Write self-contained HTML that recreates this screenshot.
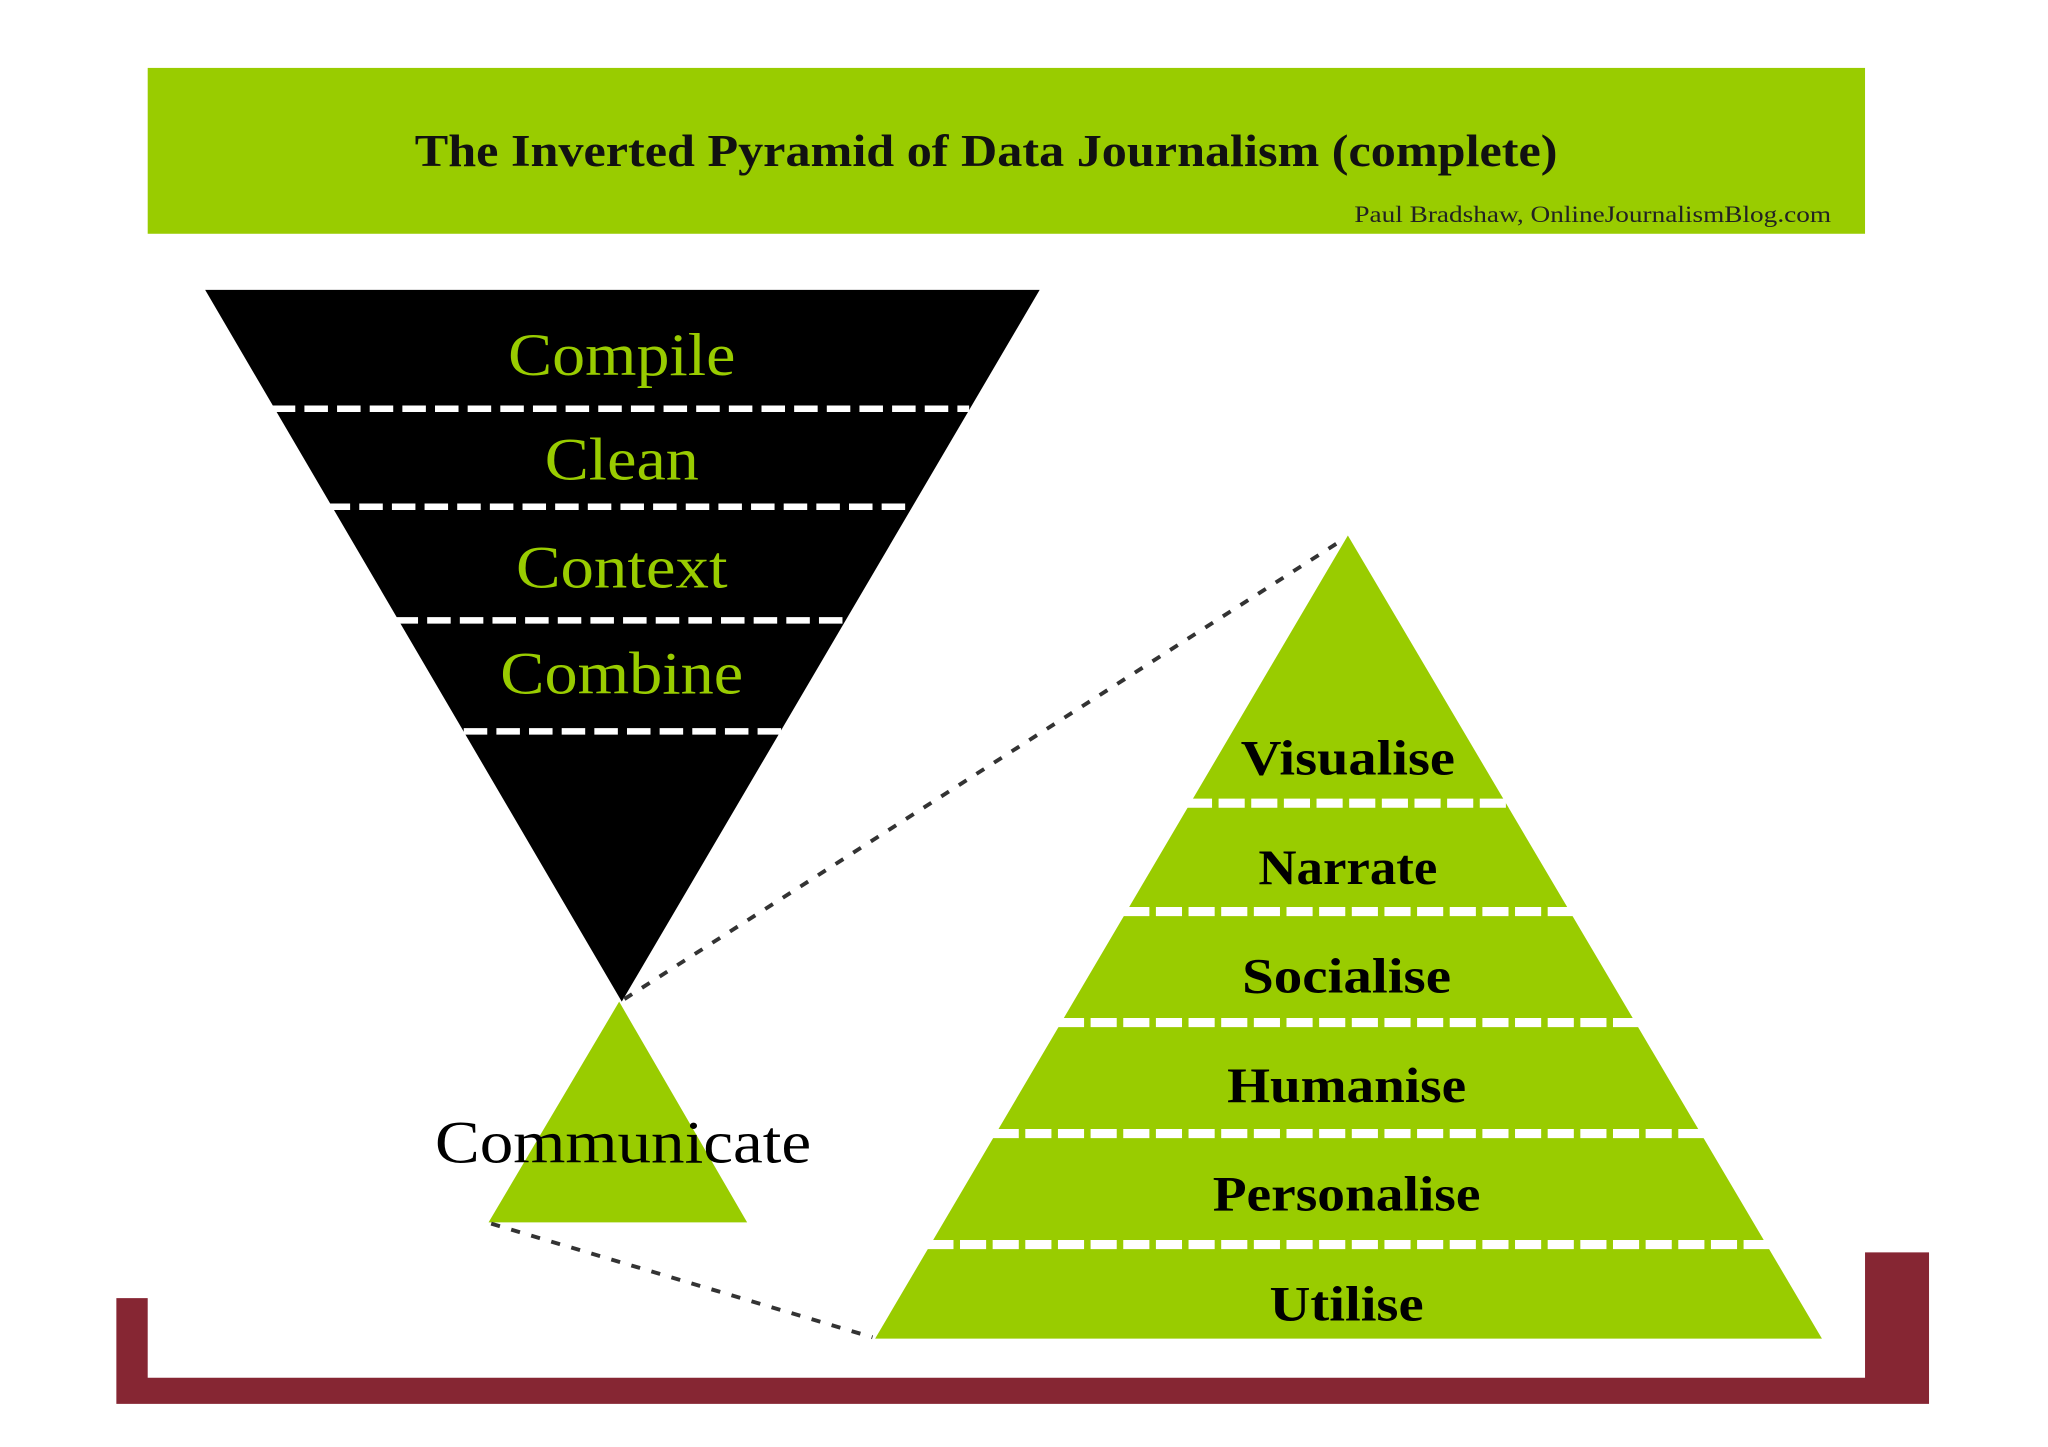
<!DOCTYPE html>
<html><head><meta charset="utf-8"><style>
html,body{margin:0;padding:0;background:#fff;}
svg{display:block;}
text{font-family:"Liberation Serif","DejaVu Serif",serif;}
</style></head><body>
<svg width="2048" height="1447" viewBox="0 0 1568 1108" xmlns="http://www.w3.org/2000/svg">
<rect width="1568" height="1108" fill="#fff"/>
<rect x="113" y="52" width="1315" height="127" fill="#99cc00"/>
<text x="755" y="127" font-size="35" font-weight="bold" text-anchor="middle" fill="#111" textLength="875" lengthAdjust="spacingAndGlyphs">The Inverted Pyramid of Data Journalism (complete)</text>
<text x="1402" y="170" font-size="18" text-anchor="end" fill="#222" textLength="365" lengthAdjust="spacingAndGlyphs">Paul Bradshaw, OnlineJournalismBlog.com</text>
<path d="M89 994 H113 V1055 H1428 V959 H1477 V1075 H89 Z" fill="#862633"/>
<polygon points="157,222 796,222 476,767" fill="#000"/>
<g stroke="#fff" stroke-width="5" stroke-dasharray="18 7">
<line x1="208" y1="313" x2="742" y2="313"/>
<line x1="250" y1="388" x2="700" y2="388"/>
<line x1="302" y1="475" x2="650" y2="475"/>
<line x1="355" y1="560" x2="598" y2="560"/>
</g>
<g font-size="46" fill="#99cc00" text-anchor="middle" lengthAdjust="spacingAndGlyphs">
<text x="476" y="287" textLength="174" lengthAdjust="spacingAndGlyphs">Compile</text>
<text x="476" y="367" textLength="118" lengthAdjust="spacingAndGlyphs">Clean</text>
<text x="476" y="450" textLength="162" lengthAdjust="spacingAndGlyphs">Context</text>
<text x="476" y="531" textLength="186" lengthAdjust="spacingAndGlyphs">Combine</text>
</g>
<polygon points="474,767 572,936 374,936" fill="#99cc00"/>
<text x="477" y="890" font-size="46" text-anchor="middle" fill="#000" textLength="288" lengthAdjust="spacingAndGlyphs">Communicate</text>
<polygon points="1032,410 1395,1025 670,1025" fill="#99cc00"/>
<g stroke="#fff" stroke-width="7" stroke-dasharray="20 5">
<line x1="908" y1="615" x2="1156" y2="615"/>
<line x1="860" y1="698" x2="1204" y2="698"/>
<line x1="810" y1="783" x2="1255" y2="783"/>
<line x1="760" y1="868" x2="1305" y2="868"/>
<line x1="710" y1="953" x2="1355" y2="953"/>
</g>
<g font-size="38" font-weight="bold" fill="#000" text-anchor="middle">
<text x="1032" y="593" textLength="164" lengthAdjust="spacingAndGlyphs">Visualise</text>
<text x="1032" y="677" textLength="137" lengthAdjust="spacingAndGlyphs">Narrate</text>
<text x="1031" y="760" textLength="160" lengthAdjust="spacingAndGlyphs">Socialise</text>
<text x="1031" y="844" textLength="183" lengthAdjust="spacingAndGlyphs">Humanise</text>
<text x="1031" y="927" textLength="205" lengthAdjust="spacingAndGlyphs">Personalise</text>
<text x="1031" y="1011" textLength="118" lengthAdjust="spacingAndGlyphs">Utilise</text>
</g>
<g stroke="#333" stroke-width="3" stroke-dasharray="7 9">
<line x1="478" y1="765" x2="1030" y2="412"/>
<line x1="376" y1="937" x2="668" y2="1024"/>
</g>
</svg>
</body></html>
